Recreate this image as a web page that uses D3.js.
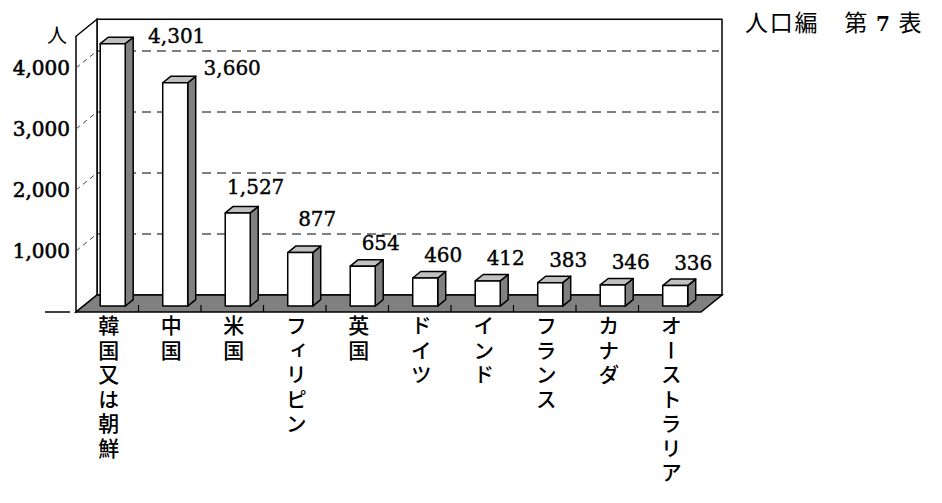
<!DOCTYPE html>
<html>
<head>
<meta charset="utf-8">
<script src="https://cdn.jsdelivr.net/npm/d3@7"></script>
<style>
  body { margin: 0; background: #fff; }
  svg { display: block; }
</style>
</head>
<body>
<script>
// Data
const categories = ["韓国又は朝鮮", "中国", "米国", "フィリピン", "英国", "ドイツ", "インド", "フランス", "カナダ", "オーストラリア"];
const values = [4301, 3660, 1527, 877, 654, 460, 412, 383, 346, 336];
const tickValues = [1000, 2000, 3000, 4000];
const unitLabel = "人";
const titleParts = ["人口編　第 ", "7", " 表"];

// Dimensions
let width = 942;
let height = 503;

// 3D box layout: front plane and depth offset
let front = { left: 76, right: 701, bottom: 312 };
let depth = { dx: 21, dy: -17 };
let wallMax = 4520;
let barDepth = [0.35, 0.73];

let numFont = "'DejaVu Serif', serif";
let jpFont = "'Noto Sans CJK JP', sans-serif";

let svg = d3
  .select("body")
  .append("svg")
  .attr("width", width)
  .attr("height", height);

let xScale = d3
  .scaleBand()
  .domain(categories)
  .range([front.left, front.right])
  .padding(0);

let hScale = d3.scaleLinear().domain([0, 4000]).range([0, 244]);

// point at front x, value v, depth t (0 front, 1 back)
function pt(x, v, t) {
  return [x + depth.dx * t, front.bottom + depth.dy * t - hScale(v)];
}
function poly(points) {
  return points.map((p) => p.join(",")).join(" ");
}

// Back wall
let bl = pt(front.left, 0, 1);
let tr = pt(front.right, wallMax, 1);
svg
  .append("rect")
  .attr("x", bl[0])
  .attr("y", tr[1])
  .attr("width", tr[0] - bl[0])
  .attr("height", bl[1] - tr[1])
  .attr("fill", "#fff")
  .attr("stroke", "#000")
  .attr("stroke-width", 1.5);

// Gridlines on back wall
svg
  .selectAll(".grid")
  .data(tickValues)
  .join("line")
  .attr("class", "grid")
  .attr("x1", (d) => pt(front.left, d, 1)[0])
  .attr("x2", (d) => pt(front.right, d, 1)[0] - 3)
  .attr("y1", (d) => pt(front.left, d, 1)[1])
  .attr("y2", (d) => pt(front.right, d, 1)[1])
  .attr("stroke", "#000")
  .attr("stroke-width", 1)
  .attr("stroke-dasharray", "9,6");

// Left wall
svg
  .append("polygon")
  .attr(
    "points",
    poly([
      pt(front.left, 0, 0),
      pt(front.left, wallMax, 0),
      pt(front.left, wallMax, 1),
      pt(front.left, 0, 1),
    ]),
  )
  .attr("fill", "#fff")
  .attr("stroke", "#000")
  .attr("stroke-width", 1.5);

// Diagonal tick lines on the left wall
svg
  .selectAll(".diag")
  .data(tickValues)
  .join("line")
  .attr("class", "diag")
  .attr("x1", (d) => pt(front.left, d, 0)[0])
  .attr("y1", (d) => pt(front.left, d, 0)[1])
  .attr("x2", (d) => pt(front.left, d, 1)[0])
  .attr("y2", (d) => pt(front.left, d, 1)[1])
  .attr("stroke", "#444")
  .attr("stroke-width", 1)
  .attr("stroke-dasharray", "5,4");

// Floor
svg
  .append("polygon")
  .attr(
    "points",
    poly([
      pt(front.left, 0, 0),
      pt(front.left, 0, 1),
      pt(front.right, 0, 1),
      pt(front.right, 0, 0),
    ]),
  )
  .attr("fill", "#808080")
  .attr("stroke", "#000")
  .attr("stroke-width", 1.5);

// Floor ticks at category boundaries
svg
  .selectAll(".ftick")
  .data(categories.slice(1))
  .join("line")
  .attr("class", "ftick")
  .attr("x1", (d) => xScale(d))
  .attr("x2", (d) => xScale(d))
  .attr("y1", front.bottom)
  .attr("y2", front.bottom - 7)
  .attr("stroke", "#000")
  .attr("stroke-width", 1.2);

// Y axis labels
svg
  .selectAll(".ylab")
  .data(tickValues)
  .join("text")
  .attr("class", "ylab")
  .attr("x", front.left - 6)
  .attr("y", (d) => pt(front.left, d, 0)[1] + 7)
  .attr("text-anchor", "end")
  .style("font-family", numFont)
  .style("font-size", "20px")
  .style("stroke", "#000")
  .style("stroke-width", "0.6px")
  .text(d3.format(","));

// zero shown as a dash
svg
  .append("line")
  .attr("x1", 45)
  .attr("x2", 70)
  .attr("y1", front.bottom)
  .attr("y2", front.bottom)
  .attr("stroke", "#000")
  .attr("stroke-width", 1.5);

// Unit label
svg
  .append("text")
  .attr("x", 57)
  .attr("y", 43)
  .attr("text-anchor", "middle")
  .style("font-family", jpFont)
  .style("font-size", "20px")
  .text(unitLabel);

// Bars
let bars = categories.map((c, i) => {
  let bw = xScale.bandwidth();
  let x0 = xScale(c) + bw * 0.27;
  let x1 = x0 + bw * 0.4;
  return { c: c, v: values[i], x0: x0, x1: x1 };
});

let t0 = barDepth[0];
let t1 = barDepth[1];

let boxes = svg.selectAll(".box").data(bars).join("g").attr("class", "box");

// side face
boxes
  .append("polygon")
  .attr("points", (d) =>
    poly([pt(d.x1, 0, t0), pt(d.x1, d.v, t0), pt(d.x1, d.v, t1), pt(d.x1, 0, t1)]),
  )
  .attr("fill", "#808080")
  .attr("stroke", "#000")
  .attr("stroke-width", 1.5)
  .attr("stroke-linejoin", "round");

// top face
boxes
  .append("polygon")
  .attr("points", (d) =>
    poly([pt(d.x0, d.v, t0), pt(d.x1, d.v, t0), pt(d.x1, d.v, t1), pt(d.x0, d.v, t1)]),
  )
  .attr("fill", "#c0c0c0")
  .attr("stroke", "#000")
  .attr("stroke-width", 1.5)
  .attr("stroke-linejoin", "round");

// front face
boxes
  .append("polygon")
  .attr("points", (d) =>
    poly([pt(d.x0, 0, t0), pt(d.x0, d.v, t0), pt(d.x1, d.v, t0), pt(d.x1, 0, t0)]),
  )
  .attr("fill", "#fff")
  .attr("stroke", "#000")
  .attr("stroke-width", 1.5)
  .attr("stroke-linejoin", "round");

// Value labels (placed like the original, some nudged)
let labelNudge = {
  韓国又は朝鮮: [64, -1],
  中国: [57, -8],
  米国: [18, -19],
  フィリピン: [17, -27],
};

svg
  .selectAll(".vlab")
  .data(bars)
  .join("text")
  .attr("class", "vlab")
  .attr("x", (d) => {
    let n = labelNudge[d.c] || [18, -16];
    return pt((d.x0 + d.x1) / 2, d.v, t0)[0] + n[0];
  })
  .attr("y", (d) => {
    let n = labelNudge[d.c] || [18, -16];
    return pt(d.x0, d.v, t0)[1] + n[1];
  })
  .attr("text-anchor", "middle")
  .style("font-family", numFont)
  .style("font-size", "20px")
  .style("stroke", "#000")
  .style("stroke-width", "0.4px")
  .text((d) => d3.format(",")(d.v));

// Category labels, vertical
svg
  .selectAll(".clab")
  .data(categories)
  .join("text")
  .attr("class", "clab")
  .attr("x", (d) => xScale(d) + xScale.bandwidth() / 2 + 1.5)
  .attr("y", 315)
  .style("writing-mode", "vertical-rl")
  .style("text-orientation", "upright")
  .style("font-family", jpFont)
  .style("font-size", "21px")
  .style("font-weight", 500)
  .style("letter-spacing", "3.5px")
  .text((d) => d);

// Title (the number is set in a serif face)
let title = svg
  .append("text")
  .attr("x", 745)
  .attr("y", 31)
  .style("font-family", jpFont)
  .style("font-size", "23px")
  .style("letter-spacing", "1.8px");

title
  .selectAll("tspan")
  .data(titleParts)
  .join("tspan")
  .style("font-family", (d, i) => (i === 1 ? numFont : jpFont))
  .style("font-weight", (d, i) => (i === 1 ? "bold" : "normal"))
  .style("font-size", (d, i) => (i === 1 ? "20px" : "23px"))
  .text((d) => d);
</script>
</body>
</html>
